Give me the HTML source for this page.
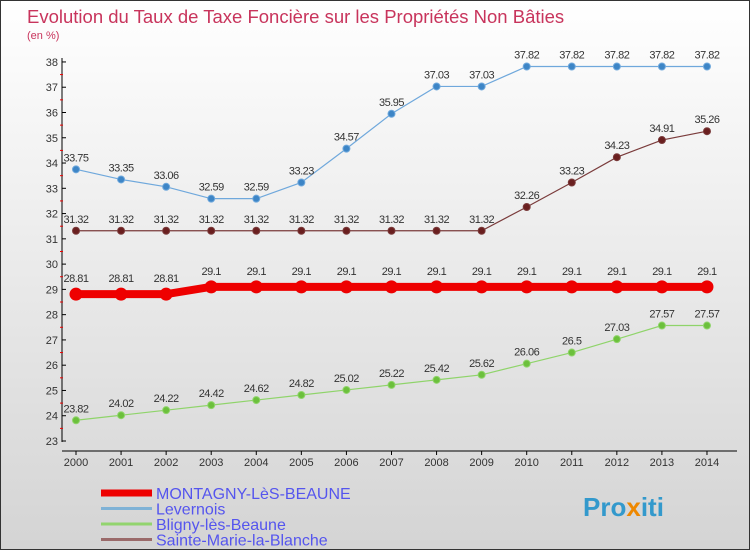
<!DOCTYPE html>
<html><head><meta charset="utf-8"><style>
html,body{margin:0;padding:0}
body{width:750px;height:550px;overflow:hidden;font-family:"Liberation Sans",sans-serif}
#wrap{position:relative;width:748px;height:548px;border:1px solid #333;background:linear-gradient(#ffffff,#d4d4d4)}
</style></head><body>
<div id="wrap">
<svg id="chart" width="748" height="548">
<text x="26" y="22" font-size="18.5" fill="#c8345c">Evolution du Taux de Taxe Foncière sur les Propriétés Non Bâties</text>
<text x="26" y="38" font-size="11" fill="#c8345c">(en %)</text>
<g id="axes"></g><g id="series"></g><g id="legend"></g>
<text x="582" y="515" font-size="26" font-weight="bold" fill="#3399cc">Pro<tspan fill="#ee8800">x</tspan>iti</text>
</svg></div>
<script>
const years=[2000,2001,2002,2003,2004,2005,2006,2007,2008,2009,2010,2011,2012,2013,2014];
const yTicks=[23,24,25,26,27,28,29,30,31,32,33,34,35,36,37,38];
const montagny=[28.81,28.81,28.81,29.1,29.1,29.1,29.1,29.1,29.1,29.1,29.1,29.1,29.1,29.1,29.1];
const levernois=[33.75,33.35,33.06,32.59,32.59,33.23,34.57,35.95,37.03,37.03,37.82,37.82,37.82,37.82,37.82];
const bligny=[23.82,24.02,24.22,24.42,24.62,24.82,25.02,25.22,25.42,25.62,26.06,26.5,27.03,27.57,27.57];
const sainte=[31.32,31.32,31.32,31.32,31.32,31.32,31.32,31.32,31.32,31.32,32.26,33.23,34.23,34.91,35.26];
const NS="http://www.w3.org/2000/svg";
const x=i=>75+i*45.07;
const y=v=>440-(v-23)*25.27;
function mk(tag,attrs,parent,text){const e=document.createElementNS(NS,tag);for(const k in attrs)e.setAttribute(k,attrs[k]);if(text!==undefined)e.textContent=text;parent.appendChild(e);return e;}
const ax=document.getElementById('axes');
let l=mk('line',{x1:61,y1:57,x2:61,y2:441,stroke:'#000'},ax);


l=mk('line',{x1:61,y1:450,x2:736,y2:450,stroke:'#000'},ax);


yTicks.forEach(t=>{
  mk('line',{x1:61,y1:y(t),x2:65,y2:y(t),stroke:'#000'},ax);
  if(t<38) mk('line',{x1:59,y1:y(t+0.5),x2:62,y2:y(t+0.5),stroke:'#e00'},ax);
  const e=mk('text',{x:57,y:y(t)+4,'font-size':11,'text-anchor':'end',fill:'#333'},ax,t);
  
  
});
years.forEach((yr,i)=>{
  mk('line',{x1:x(i),y1:450,x2:x(i),y2:454,stroke:'#000'},ax);
  const e=mk('text',{x:x(i),y:465,'font-size':11,'text-anchor':'middle',fill:'#333'},ax,yr);
  
  
});
const sg=document.getElementById('series');
function series(data,color,fill,w,r,name,labelOff){
  const g=mk('g',{},sg);
  
  
  mk('polyline',{points:data.map((v,i)=>x(i)+','+y(v)).join(' '),fill:'none',stroke:color,'stroke-width':w},g);
  data.forEach((v,i)=>{
    const c=mk('circle',{cx:x(i),cy:y(v),r:r,fill:fill,stroke:color,'stroke-width':1},g);
    
    
    const t=mk('text',{x:x(i),y:y(v)-labelOff,'font-size':11,'text-anchor':'middle',fill:'#333','letter-spacing':'-0.5'},g,String(v));
    
    
  });
}
series(levernois,'#6fa8dc','#3d85c6',1.2,3.5,'levernois-series',8);
series(bligny,'#8fd46a','#6cc03c',1.2,3.5,'bligny-series',8);
series(sainte,'#7a3b3b','#6a1f1f',1.2,3.5,'sainte-marie-series',8);
series(montagny,'#ee0000','#ee0000',8,6,'montagny-series',12);
const lg=document.getElementById('legend');
const entries=[['MONTAGNY-LèS-BEAUNE','#ee0000',7],['Levernois','#7fb2d6',3],['Bligny-lès-Beaune','#92d46e',3],['Sainte-Marie-la-Blanche','#9a6a6a',3]];
entries.forEach((e,i)=>{
  const yy=492+i*15.5;
  const g=mk('g',{},lg);
  
  
  mk('line',{x1:100,y1:yy,x2:151,y2:yy,stroke:e[1],'stroke-width':e[2]},g);
  mk('text',{x:155,y:yy+6,'font-size':16,fill:'#5555ee'},g,e[0]);
});
</script>
</body></html>
